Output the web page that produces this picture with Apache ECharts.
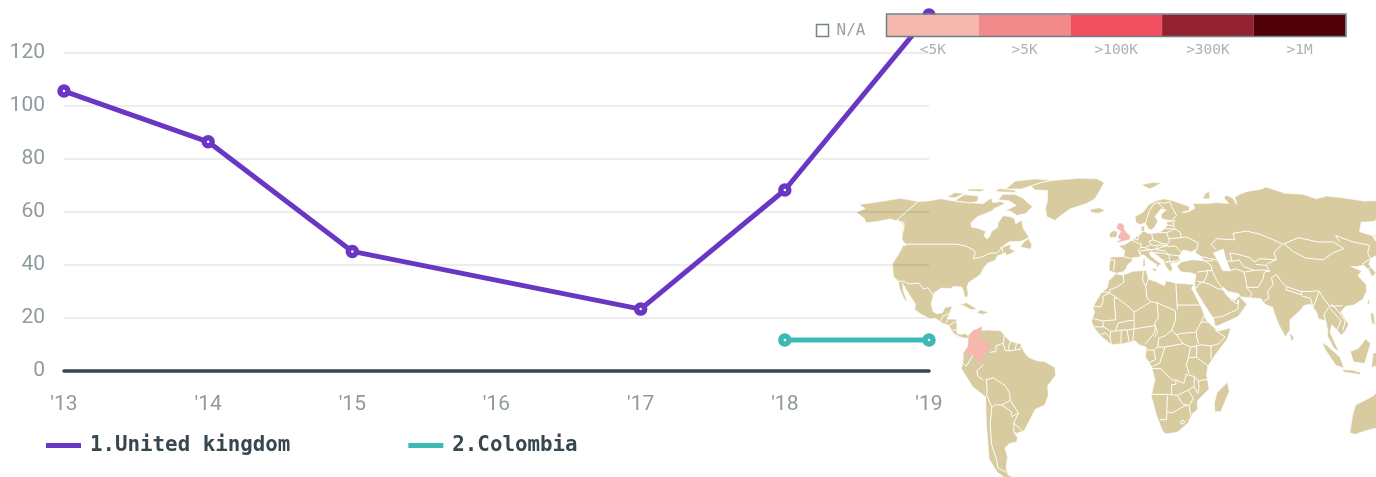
<!DOCTYPE html>
<html>
<head>
<meta charset="utf-8">
<style>
html,body{margin:0;padding:0;background:#fff;}
#chart{width:1376px;height:477px;}
</style>
<script src="https://cdn.jsdelivr.net/npm/echarts@6/dist/echarts.min.js"></script>
</head>
<body>
<div id="chart"></div>
<script>
var years = ["'13","'14","'15","'16","'17","'18","'19"];
var ukName = '1.United kingdom';
var colName = '2.Colombia';
var ukValues = [105.6,86.4,45,null,23.2,68.2,134.3];
var colValues = [null,null,null,null,null,11.5,11.5];

var legendLabels = ['<5K','>5K','>100K','>300K','>1M'];
var legendLimits = [0,5000,100000,300000,1000000];
var legendColors = ['#f5b7ae','#f2898a','#f15060','#92222f','#500006'];
var shadedCountries = ['United Kingdom','Colombia'];
var shadedValues = [4000,3000];

// rough country outlines, lon/lat
var northAmerica = [[-166,69.5],[-162,70.3],[-156.5,71.3],[-141,69.6],[-135,69.8],[-128,71],[-115,69.5],[-108,69],[-96,68.5],[-94,71.5],[-90,69],[-85,69.5],[-81.5,68.5],[-86,66],[-87,64.5],[-93,62],[-94.5,59],[-92.5,57],[-88,56.3],[-82.5,55],[-82,52.8],[-79.5,51.3],[-78.8,52.5],[-79,55],[-76.8,56.8],[-78,59],[-77.5,62.4],[-73,62],[-69.5,61],[-67,58.5],[-64.5,60.2],[-61.5,56.5],[-57,53],[-56,52],[-60,50.2],[-66,50.2],[-70,47.3],[-65,49],[-64.5,47],[-61,45.8],[-63.5,44.6],[-66,43.8],[-66,45.2],[-70,43.8],[-70.5,41.8],[-74,40.5],[-75.5,38],[-76,35.5],[-78,34],[-81,32],[-81.3,30],[-80,26.8],[-80.5,25.2],[-81.8,26],[-82.8,28.5],[-84,30],[-88,30.3],[-89.5,29.2],[-94,29.5],[-97.2,27.5],[-97.8,22.5],[-96,19],[-94,18.2],[-91.5,18.5],[-90.5,21],[-87,21.5],[-88,18],[-88.8,15.9],[-84,15.8],[-83.5,12],[-83.5,10],[-81.5,9],[-79.5,9.5],[-77.5,8.5],[-78,7.4],[-80,7.5],[-81,7.8],[-83,8.3],[-85.5,10],[-87.5,13],[-91,14],[-94.5,16.2],[-97,15.9],[-102,18],[-105.5,20],[-105.5,22.5],[-109,26],[-112.5,29.5],[-114.7,31.7],[-113,28],[-109.5,23],[-112,25],[-115.5,29.5],[-117.2,32.5],[-120.6,34.5],[-122.5,37.5],[-124.3,40.3],[-124,46],[-124.7,48.4],[-122.5,48.5],[-127.5,51],[-130.5,54.5],[-135,58.5],[-140,59.8],[-146,60.8],[-152,59.5],[-158,59],[-162,61],[-172,64],[-170,66],[-178,68]];
var greenland = [[-73,78.2],[-68,80.5],[-60,82],[-40,83.6],[-25,83.2],[-18,80.5],[-20,75],[-22,71],[-27,68.5],[-37,65.7],[-42,62],[-44,60],[-50,62],[-53,66],[-54,70],[-58,75.5],[-68,76]];
var arcticIslands = [
  [[-80,73.5],[-72,71.5],[-68,69.5],[-62,67],[-64,63.5],[-69,62.5],[-74,64.5],[-78,65],[-73,67.5],[-80,70],[-88,70.5],[-88,73.5]],
  [[-117,70],[-105,68.8],[-101,69.5],[-104,72.5],[-115,73.3]],
  [[-125,72],[-119,71.5],[-116,74],[-124,74.3]],
  [[-90,76.5],[-78,76.5],[-72,79],[-62,82.2],[-75,83],[-90,81.5]],
  [[-96,75],[-80,74.5],[-82,75.8],[-95,76.7]],
  [[-117,75.5],[-106,75],[-105,76.5],[-117,76.5]],
  [[11,79],[20,80.5],[27,80],[17,76.5]],
  [[52,71],[56,74],[68,77],[60,75.5],[57,71]]
];
var atlanticIslands = [
  [[-59,47.7],[-53,46.7],[-53,48.7],[-56,51.6],[-58,50]],
  [[-85,22],[-80,23],[-74.5,20.2],[-77.5,19.9],[-82,22]],
  [[-74.4,18.5],[-73,19.9],[-68.5,18.7],[-71.5,17.8]],
  [[-24,65.5],[-18,66.3],[-14,65],[-18,63.5],[-22.5,64]],
  [[-10,52],[-6,52.2],[-5.5,54.8],[-8,55.3],[-10,54]],
  [[12.5,38],[15.5,38.2],[15,36.7]],
  [[8.3,39],[9.7,39.2],[9.5,43],[8.7,42]],
  [[49.3,-12],[50.5,-16],[47,-25],[44,-25],[43.5,-21],[44.5,-16.5]]
];
var eurasia = [[-9,37],[-9.5,38.8],[-8.8,43.2],[-1.8,43.4],[-1.2,46],[-4.7,48.4],[-1.5,48.7],[1.5,50.2],[4,51.5],[7,53.5],[8.5,54],[8.3,57],[10.6,57.7],[10,55],[12,54],[14.2,53.9],[19,54.4],[21,55.5],[24,57.5],[24,59.3],[29.5,59.9],[25,60.2],[21.5,60.8],[21.5,63],[25.3,65.2],[22,65.8],[17.5,62],[18.8,59.8],[16.5,57],[14.3,55.5],[12.7,56],[11,59],[8,58],[5.5,59],[5,62],[10,64],[14.5,68],[20,70],[25.5,71],[31,70],[41,67],[40,65],[35,64],[37,64],[40,64.6],[44,66],[44,68.5],[54,68.5],[60,69],[68,68.5],[67,71.5],[70,73],[73,71.5],[73,68],[75,72],[81,73.7],[87,75],[100,76.5],[105,77.7],[113,74],[125,73.5],[130,71],[140,72.5],[150,71.5],[160,69.8],[170,70],[180,69],[179,65],[177.5,62.5],[170,60],[163,59.5],[162,55],[157,51],[155.7,57],[163,62],[156,61.5],[150,59.5],[142,59.2],[135.5,54.7],[141,53],[140,48],[135.5,44],[131,42.7],[128,40],[129.4,36],[126.5,34.5],[126.5,37.5],[125,39.7],[121.5,39],[118,39],[122.5,37],[119.5,35],[122,31],[121,28],[118,24.5],[113,22],[109,21.5],[106,19],[109,13.5],[107,10.5],[105,8.7],[100.8,13.4],[99.5,10],[103.5,1.4],[101,3],[98.3,8],[98,15],[94.5,16],[94,19],[91.5,22.5],[88,21.7],[86.5,20],[80.3,15.5],[80,11],[77.5,8],[74.8,13],[72.8,19],[72.5,21],[69,22.3],[67,24.8],[61.5,25.2],[57,25.7],[56.3,27],[51,28],[48.8,30],[48,29.5],[50,26.5],[51.5,25],[54,24],[56.3,26],[59.8,22.4],[55,17],[45,13],[43.3,12.7],[42.8,16],[39,21.5],[35,28],[34.5,31.2],[35.8,35.5],[33,36.2],[28,36.7],[26.3,39.3],[29,41],[35,42],[41.5,41.5],[39,44],[37,45.5],[39,47],[35,45.5],[33,46],[30.7,46.4],[28,43.5],[28.5,41.5],[26,40.8],[23,40.5],[24,38],[22.5,36.5],[21,38.5],[19.5,41],[19,42],[14.5,45.2],[12.3,45.4],[12.5,44],[16,41.5],[18.5,40],[16.5,39.5],[15.7,38],[15.5,40],[12,42],[8.8,44.3],[6,43],[3.2,43],[3,41.8],[0,39.5],[-0.5,38],[-2,36.7],[-5.5,36]];
var caspian = [[47,45],[49,40.5],[50,37.3],[54,37],[53,42],[53,46.8]];
var asiaIslands = [
  [[130,33],[132,34.5],[136,36],[140,38],[141.5,41],[141,36],[137,34.5],[133,33.5],[131,31]],
  [[140,42],[142,45.5],[145.5,43.5],[143,42]],
  [[142,46],[143.5,50],[143,54.3],[142,52]],
  [[120,23],[121.5,25.2],[121,22]],
  [[120.5,18.5],[122.2,18.4],[122,14],[124,12.8],[120.5,14]],
  [[122,7],[125.5,9.6],[126.5,7],[124,6]],
  [[109,1.5],[113,3],[116.8,7],[119,5],[117.5,1],[116,-3.8],[110.5,-3]],
  [[95.3,5.6],[98,4],[104,-1],[106,-5.8],[102,-4.5],[97,2]],
  [[105.3,-6.5],[110,-6.6],[114.5,-7.7],[114,-8.6],[106,-7.5]],
  [[119.5,-5.5],[120,0.8],[125,1.5],[121.5,-0.8],[123,-4.5]],
  [[131,-1],[138,-1.7],[145,-5],[150.5,-10.5],[143,-9],[138,-8],[133,-4]],
  [[79.8,8.5],[80,9.7],[81.8,7.5],[80.5,6]],
  [[145,-41],[148,-41],[147.5,-43.5],[146,-43.5]]
];
var australia = [[114,-22],[113.5,-26],[115,-34.3],[118,-35],[124,-33],[131,-31.5],[135.5,-35],[138,-33],[138.5,-35.5],[143,-38.8],[147,-38],[150,-37.5],[153,-31],[153,-25],[146,-19],[145,-15],[142.5,-10.8],[141,-17],[136,-15],[136,-12],[131,-11.5],[129,-15],[125,-14],[122,-18]];
var africa = [[-6,35.8],[-2,35.2],[3,36.9],[10,37.3],[11,33.5],[15,32.3],[19,30.5],[20,32.7],[25,31.7],[32,31.2],[34.3,31.2],[32.7,29.5],[34,27],[37,21],[39,15.5],[43.3,11.7],[44.5,10.5],[51,12],[49,7],[43,0],[39.5,-5],[39,-9],[40.5,-15],[35,-20],[35.3,-24],[32.7,-26],[31,-30],[26,-34],[20,-34.8],[18.3,-33.5],[15,-27],[12,-18],[13.7,-11],[12,-5],[9,-1],[9.5,3.5],[6,4.4],[4,6.3],[-2,5],[-7.5,4.5],[-13,8.5],[-16.5,12.5],[-17.5,14.8],[-16,19],[-17,21],[-13,27.5],[-10,29.5],[-9.5,32.5]];
var southAmerica = [[-77.5,8.5],[-75.5,10.8],[-71.5,12.4],[-71.5,10.8],[-68,11],[-62,10.7],[-60,8.5],[-57,6],[-52,5],[-50,1],[-48,-1],[-44,-2.5],[-40,-3],[-35.2,-5.5],[-35,-9],[-39,-13.5],[-39,-18],[-41,-22],[-46,-24],[-48.7,-28],[-53,-33.5],[-57,-34.5],[-58.3,-34],[-57,-36.5],[-58,-38.3],[-62,-39],[-65,-41],[-65,-45],[-68,-50],[-68.5,-53],[-65,-55],[-70,-55.5],[-74,-52],[-75.5,-46],[-73.5,-40],[-71.5,-30],[-70,-18.5],[-76,-14],[-81,-6],[-80,-2.5],[-80,0.8],[-77.5,4],[-77.5,7]];
var colombia = [[-77.4,8.6],[-75.5,10.7],[-73,11.4],[-71.5,12.4],[-71.3,11],[-72.5,8.5],[-72,7],[-67.5,6.2],[-67.8,2.8],[-67,1.2],[-69.8,1.7],[-69.8,-0.5],[-70,-4.2],[-72.5,-2.5],[-75.2,-0.1],[-77.5,0.4],[-79,1.5],[-77.5,4],[-77.5,7]];
var unitedKingdom = [[-5.5,50],[1.3,51.2],[1.7,52.7],[-0.2,54],[-2,56],[-1.8,57.6],[-3.5,58.6],[-5,58.6],[-6,56.5],[-3.2,54.8],[-4.5,53.3],[-5,51.8],[-3,51.3]];

var americaBorders = [
  [[-141,69.6],[-141,60.2],[-135,59],[-130.5,55]],
  [[-123,49],[-95,49],[-89,48],[-84.5,46.5],[-82.5,45],[-82.5,42.5],[-79,43],[-76,44.3],[-74.5,45],[-71,45],[-69,47.3],[-67.5,45.2]],
  [[-117.2,32.5],[-114.7,32.5],[-111,31.3],[-106.5,31.7],[-103,29],[-101,29.7],[-97.2,26]],
  [[-92,14.6],[-91,17.2],[-89.2,17.8],[-88.3,18.4]],
  [[-89.3,14],[-88.3,15.7]],[[-87.5,13],[-84,15],[-83.3,15]],[[-85.7,11],[-83.7,11]],[[-83,8.3],[-82.8,9.6]],
  [[-60,8.5],[-60.5,5.2]],[[-67,1.2],[-64,1.5],[-64,4],[-60.5,5.2]],[[-60.5,5.2],[-59.5,2],[-57,1.8]],
  [[-57,6],[-58,3],[-57,1.8]],[[-54,5.8],[-54.5,2.3]],[[-57,1.8],[-54.5,2.3],[-52,2.5],[-51.5,4.3]],
  [[-80.3,-3.4],[-78.5,-5],[-75.2,-0.1]],[[-70,-4.2],[-73.5,-7],[-73,-9.5],[-70.5,-11]],
  [[-69,-11],[-69,-16],[-69.5,-17.5]],[[-69.5,-11],[-65.5,-10],[-60,-13.5],[-58,-16.5],[-58,-20]],
  [[-58,-20],[-62.5,-22]],[[-62.5,-22],[-66,-22],[-67.5,-23]],[[-69.5,-17.5],[-68.5,-20],[-67.5,-23]],
  [[-67.5,-23],[-69.5,-30],[-70.5,-35],[-71.5,-40],[-71.5,-46],[-72.5,-50],[-69,-52]],
  [[-58,-20],[-55.5,-24],[-54.5,-25.5]],[[-62.5,-22],[-58,-25],[-58,-27.2],[-54.5,-25.5]],
  [[-54.5,-25.5],[-57.5,-30]],[[-58.3,-34],[-57.5,-30],[-53.5,-33.7]]
];
var africaBorders = [
  [[-2,35.2],[-1.5,32.2],[-5,30],[-8.7,28.7],[-8.7,27.3]],[[-13,27.7],[-8.7,27.7]],
  [[-8.7,27.3],[-12,26],[-12,23.4],[-13,21.3],[-17,21.3]],[[-8.7,27.3],[-4.8,25],[-6.5,25],[-5.5,15.5],[-12,15],[-16.5,16]],
  [[-12,15],[-11.5,12.4]],[[-16.7,12.4],[-11.5,12.4],[-8,10.5],[-8.3,7.5],[-7.5,4.5]],[[-13,9],[-10.5,9.8],[-8.3,7.5]],
  [[-3,5],[-2.8,11]],[[1,6],[0,11]],[[2.8,6.3],[3.5,11.5]],[[-8,10.5],[-5.5,10.5],[-2.8,11],[0,11],[3.5,11.5],[14,13]],
  [[-5.5,10.5],[-4.5,14],[0,15],[3.5,15.4]],[[-4.8,25],[1.2,21],[3.5,19],[4.2,19.2],[12,23.5]],[[3.5,19],[3.5,15.4],[3.5,11.5]],
  [[8.5,36.8],[8,33],[9.5,30.2],[10,25],[12,23.5]],[[11,33.5],[9.5,30.2]],[[12,23.5],[15,23],[24,19.5]],[[25,31.7],[25,20]],[[25,22],[37,22]],
  [[15,23],[15.5,16.5],[13.5,13.7],[15,10],[13.5,8]],[[24,19.5],[24,15.5],[22,11],[18.8,8.5],[15.5,7.5]],
  [[8.6,4.7],[11,7],[13.5,10],[14,13]],[[24,9],[27,9.5],[33,10],[34,10.5]],[[22,11],[24,9],[27.5,5],[31,3.5]],
  [[15.5,7.5],[15,3.5]],[[15,3.5],[18.5,3.5],[27.5,5]],[[18.5,3.5],[16,-3.5],[12.5,-5]],[[9.8,2.2],[13,2.2],[15,3.5]],[[13,2.2],[14,-2],[10.5,-3.5]],
  [[12,-6],[16.5,-6],[22,-11],[24,-11],[24,-13],[22,-13],[22,-17.5],[11.8,-17.3]],[[24,-11],[28,-12.5],[29,-8.5]],[[31,3.5],[30,-1],[29,-4.5],[30.5,-8.3]],
  [[34,4.5],[34,0],[33.9,-1]],[[33.9,-1],[39.5,-4.7]],[[30,-1],[33.9,-1]],[[29,-8.5],[33,-9.5],[35,-11.5],[40.5,-10.5]],
  [[31,3.5],[34,4]],[[34,4],[36,4.5],[41,4],[41,-1.7]],[[41,4],[45,5],[48,8],[43,11]],[[34,10.5],[36.5,14.5]],[[36.5,14.5],[38.5,18]],[[36.5,14.5],[40,14.5],[42.5,12.5]],[[34,10.5],[34,8],[35,5]],
  [[33,-9.5],[33,-14],[35,-17],[35.5,-14.5],[35,-11.5]],[[22,-17.5],[25,-17.8],[30,-15.5],[33,-14]],[[25,-17.8],[27.5,-21.5],[31,-22.3],[33,-19],[30,-15.5]],
  [[20,-18],[20,-28.5],[16.5,-28.5]],[[20,-25],[23,-25.5],[27.5,-23],[29.5,-22.2],[31,-22.3],[32,-26.5]],[[27,-29.5],[28.5,-28.7],[29.3,-29.7],[28,-30.6],[27,-29.5]]
];
var europeBorders = [
  [[-8.8,42],[-6.5,41.8],[-7,37.2]],[[-1.8,43.4],[3,42.4]],[[2.5,51],[6,49.5],[8,49],[7.5,47.5],[6,46.2],[7.5,43.8]],[[4,51.4],[6,51],[7,53.3]],
  [[14.2,53.9],[14.8,51],[12.3,50.3],[13.5,48.7],[10,47.5],[7.5,47.5]],[[8.5,54.8],[9.8,54.8]],[[19,54.4],[23,54.3],[24,50.5],[22.5,49],[19,49.5],[14.8,51]],
  [[17,48.7],[22.5,48.4],[22.5,49]],[[13.5,48.7],[17,48.1],[16,46.8],[13.5,46.5],[10,47]],[[7.5,43.8],[7,46],[13.5,46.5],[13.7,45.6]],
  [[16,46.8],[22.5,48.4]],[[22.5,48],[27,48.2],[29.7,45.3]],[[21,46],[22.5,44.3],[28.5,43.7]],[[16,46.5],[21,46]],[[14.5,45.2],[19,45],[22.5,44.3],[23,41.3],[20.5,41],[19.3,42]],
  [[20.5,40.8],[26,41.5],[28,42]],[[24,51.5],[31,52],[34,52.3],[40,49.6],[38.5,47.2]],[[23,54.3],[28,56],[31,54.5],[31,52]],[[21,56.2],[28,56],[28,59.4]],[[24,58],[27.5,57.5]],
  [[28,60.5],[31,62.5],[29.5,66.5],[29,69.5]],[[11.3,59],[12.5,61.5],[14.5,65],[18,68.5],[20.5,69],[25,68.7],[29,69.5]],[[20.5,69],[24,66]]
];
var asiaBorders = [
  [[49,46.5],[47,49],[51,51.5],[61,51],[61.5,54],[70,55],[77,53.5],[83,51],[87,49]],[[39.5,43.5],[48.5,41.8]],[[41.5,41.5],[46,41.5]],
  [[41.5,41.5],[44.5,39.5],[44.5,37.2],[42.2,37.2],[36.5,36.5]],[[44.5,37.2],[46,33],[48,30]],[[42.2,37.2],[41,34.5],[39,32],[36,32.5]],
  [[48,29],[46.5,29],[42,31.2],[39,32],[37,31.5],[35,29.4]],[[43,16.5],[47,17],[52,19],[55,20],[56,24.3]],[[51.5,24.5],[55,22.5],[55.5,24.3]],
  [[54,37.3],[57,38],[61,36.5]],[[61,36.5],[61,31.5],[60.8,29.8],[63,27],[61.5,25.2]],[[60.8,29.8],[66.5,29.8],[70,33.5],[71.5,36.5],[74.5,37]],
  [[53,41.5],[56,41.3],[60,42],[61.5,39],[66.5,37.3]],[[61,36.5],[66.5,37.3],[71.5,37.5],[74.5,37]],[[56,45],[56,41.3]],[[56,45],[60,44.5],[66,43],[68,41],[71,42.5],[80,42],[80,45],[83,47],[87,49]],
  [[68,40],[73.5,39.5],[75,40.5],[80,42]],[[74.5,37],[73.5,39.5]],[[68.5,23.7],[71,25],[71,28],[74.5,31],[74.5,34],[77.5,35.5]],
  [[77.5,35.5],[79,32.5],[81,30.2],[88,28],[92,28],[97,28.3],[98.5,25],[101,21.5]],[[81,30.2],[80.5,28.7],[88,26.5],[88,28]],[[88,26],[92,25],[92.5,21]],[[97,28],[94.5,24],[92.5,21]],
  [[101,21.5],[97.5,18],[98.5,10]],[[102,22.5],[105,19],[107.5,15],[106,11]],[[101,20.5],[105.5,15],[103,11]],[[101,21.5],[107.5,21.7]],
  [[87.7,49.2],[98,52],[107,50],[116,50],[119.5,47],[112,45],[105,42],[96,42.8],[91,45.5],[87.7,49.2]],[[119.5,50],[120,53],[127,50],[135,48.5],[131,45],[130.7,42.5]],[[124.5,40],[130.5,42.5]],[[126.5,38],[128.5,38.5]]
];

// Robinson table, every 5 degrees of latitude
var robinX = [1,.9986,.9954,.99,.9822,.973,.96,.9427,.9216,.8962,.8679,.835,.7986,.7597,.7186,.6732,.6213,.5722,.5322];
var robinY = [0,.062,.124,.186,.248,.31,.372,.434,.4958,.5571,.6176,.6769,.7346,.7903,.8435,.8936,.9394,.9761,1];
var mapX0 = 1127, mapY0 = 355, mapSX = 2.05, mapSY = 183;

function robinLookup(table,lat){
    var a = Math.min(Math.abs(lat),89.99)/5;
    var i = Math.floor(a);
    return table[i]+(table[i+1]-table[i])*(a-i);
}
function project(p){
    var sign = p[1]<0?-1:1;
    return [mapX0+mapSX*p[0]*robinLookup(robinX,p[1]), mapY0-mapSY*sign*robinLookup(robinY,p[1])];
}
function unproject(p){
    // only rough inverse, nothing here is interactive
    return [(p[0]-mapX0)/mapSX,(mapY0-p[1])/mapSY*90];
}
function closeRing(r){
    return r.concat([r[0]]);
}
function colorFor(v){
    var c = legendColors[0];
    for(var i=0;i<legendLimits.length;i++){
        if(v>=legendLimits[i]) c = legendColors[i];
    }
    return c;
}

var landRings = [[closeRing(northAmerica)],[closeRing(greenland)],[closeRing(eurasia),closeRing(caspian)],[closeRing(africa)],[closeRing(southAmerica)],[closeRing(australia)]];
arcticIslands.concat(atlanticIslands,asiaIslands).forEach(function(r){
    landRings.push([closeRing(r)]);
});
var worldJson = {type:'FeatureCollection',features:[
    {type:'Feature',properties:{name:'Land'},geometry:{type:'MultiPolygon',coordinates:landRings}},
    {type:'Feature',properties:{name:'Colombia'},geometry:{type:'Polygon',coordinates:[closeRing(colombia)]}},
    {type:'Feature',properties:{name:'United Kingdom'},geometry:{type:'Polygon',coordinates:[closeRing(unitedKingdom)]}}
]};
echarts.registerMap('world',worldJson);

// projected box of the land, geo wants it as its layout rect
var minX=1e9,maxX=-1e9,minY=1e9,maxY=-1e9;
landRings.forEach(function(poly){
    poly[0].forEach(function(p){
        var q = project(p);
        minX=Math.min(minX,q[0]);maxX=Math.max(maxX,q[0]);
        minY=Math.min(minY,q[1]);maxY=Math.max(maxY,q[1]);
    });
});

var borderLines = americaBorders.concat(africaBorders,europeBorders,asiaBorders).map(function(b){
    return {coords:b};
});
var regionStyles = shadedCountries.map(function(n,i){
    return {name:n,itemStyle:{areaColor:colorFor(shadedValues[i]),borderColor:'#f5b7ae',borderWidth:0.5}};
});

// colour bar and N/A box
var barLeft = 887, barW = 91.7, barTop = 14.5, barH = 21.5;
var legendGraphics = [];
legendColors.forEach(function(c,i){
    legendGraphics.push({type:'rect',z:100,shape:{x:barLeft+i*barW,y:barTop,width:barW,height:barH},style:{fill:c}});
    legendGraphics.push({type:'text',z:100,x:barLeft+(i+0.5)*barW,y:50,style:{text:legendLabels[i],fill:'#a9b2b6',font:'14.5px "DejaVu Sans Mono"',align:'center',verticalAlign:'middle'}});
});
legendGraphics.push({type:'rect',z:101,shape:{x:barLeft-0.5,y:barTop-0.5,width:barW*5+1,height:barH+1},style:{fill:'none',stroke:'#6f7f87',lineWidth:1.5}});
legendGraphics.push({type:'rect',z:100,shape:{x:816.5,y:24.5,width:12,height:12},style:{fill:'#fff',stroke:'#76858c',lineWidth:1.5}});
legendGraphics.push({type:'text',z:100,x:851,y:31,style:{text:'N/A',fill:'#98a2a7',font:'16px "DejaVu Sans Mono"',align:'center',verticalAlign:'middle'}});

var myChart = echarts.init(document.getElementById('chart'),null,{renderer:'canvas'});
var option = {
    animation:false,
    backgroundColor:'#fff',
    grid:{left:64,right:447,top:0,bottom:106.5,containLabel:false},
    legend:{
        left:46,top:435,padding:0,icon:'rect',itemWidth:35,itemHeight:5,itemGap:118,
        textStyle:{fontFamily:'DejaVu Sans Mono',fontWeight:'bold',fontSize:20.8,color:'#37474f',padding:[0,0,0,4]},
        data:[
            {name:ukName,itemStyle:{color:'#6a36c4',borderWidth:0}},
            {name:colName,itemStyle:{color:'#3cb9b7',borderWidth:0}}
        ]
    },
    geo:{
        map:'world',z:-2,silent:true,roam:false,aspectScale:1,
        projection:{project:project,unproject:unproject},
        left:minX,top:minY,width:maxX-minX,height:maxY-minY,
        itemStyle:{areaColor:'#d8cb9f',borderColor:'#fff',borderWidth:0.6},
        label:{show:false},
        regions:regionStyles
    },
    xAxis:{
        type:'category',data:years,boundaryGap:false,
        axisLine:{lineStyle:{color:'#37474f',width:3.5}},
        axisTick:{show:false},
        axisLabel:{color:'#8f9a9f',fontFamily:'Roboto',fontSize:21,margin:24,showMinLabel:true,showMaxLabel:true,interval:0},
        splitLine:{show:false}
    },
    yAxis:{
        type:'value',min:0,max:140,interval:20,
        axisLine:{show:false},axisTick:{show:false},
        axisLabel:{color:'#8f9a9f',fontFamily:'Roboto',fontSize:21,margin:19,showMaxLabel:false,padding:[6,0,0,0]},
        splitLine:{show:true,showMaxLine:false,lineStyle:{color:'rgba(0,0,0,0.07)',width:2}}
    },
    series:[
        {
            name:'borders',type:'lines',coordinateSystem:'geo',polyline:true,z:-1,silent:true,
            lineStyle:{color:'#fff',width:1,opacity:1},data:borderLines
        },
        {
            name:ukName,type:'line',data:ukValues,connectNulls:true,z:5,
            symbol:'circle',symbolSize:8,showAllSymbol:true,
            lineStyle:{color:'#6a36c4',width:5},
            itemStyle:{color:'#fff',borderColor:'#6a36c4',borderWidth:5.5}
        },
        {
            name:colName,type:'line',data:colValues,z:5,
            symbol:'circle',symbolSize:8,showAllSymbol:true,
            lineStyle:{color:'#3cb9b7',width:5},
            itemStyle:{color:'#fff',borderColor:'#3cb9b7',borderWidth:5.5}
        }
    ],
    graphic:{elements:legendGraphics}
};
myChart.setOption(option);
</script>
</body>
</html>
